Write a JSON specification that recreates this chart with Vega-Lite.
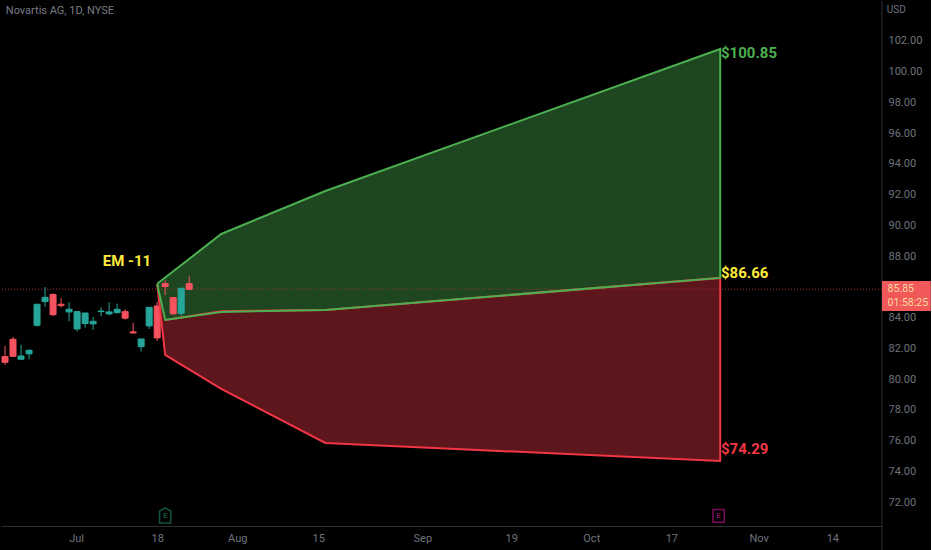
{"$schema":"https://vega.github.io/schema/vega-lite/v6.json","width":881,"height":525,"padding":0,"autosize":{"type":"pad"},"background":"#000000","config":{"view":{"stroke":null},"text":{"font":"Roboto"}},
"datasets":{
"candles":[
{"bar":0,"high":82.16,"low":80.92,"top":81.46,"bottom":81.09,"dir":"down"},
{"bar":1,"high":82.74,"low":81.48,"top":82.59,"bottom":81.48,"dir":"down"},
{"bar":2,"high":82.22,"low":81.29,"top":81.5,"bottom":81.29,"dir":"up"},
{"bar":3,"high":81.94,"low":81.29,"top":81.87,"bottom":81.64,"dir":"up"},
{"bar":4,"high":84.87,"low":83.41,"top":84.87,"bottom":83.5,"dir":"up"},
{"bar":5,"high":85.99,"low":84.71,"top":85.32,"bottom":85.04,"dir":"up"},
{"bar":6,"high":85.58,"low":84.09,"top":85.5,"bottom":84.19,"dir":"down"},
{"bar":7,"high":85.26,"low":84.65,"top":84.87,"bottom":84.78,"dir":"down"},
{"bar":8,"high":85.0,"low":83.76,"top":84.54,"bottom":84.37,"dir":"up"},
{"bar":9,"high":84.39,"low":83.09,"top":84.39,"bottom":83.26,"dir":"up"},
{"bar":10,"high":84.3,"low":83.35,"top":84.3,"bottom":83.61,"dir":"up"},
{"bar":11,"high":84.04,"low":83.2,"top":83.76,"bottom":83.59,"dir":"up"},
{"bar":12,"high":84.65,"low":84.09,"top":84.43,"bottom":84.39,"dir":"up"},
{"bar":13,"high":85.0,"low":84.15,"top":84.37,"bottom":84.24,"dir":"up"},
{"bar":14,"high":84.91,"low":84.28,"top":84.54,"bottom":84.32,"dir":"up"},
{"bar":15,"high":84.54,"low":83.87,"top":84.39,"bottom":83.96,"dir":"down"},
{"bar":16,"high":83.67,"low":82.96,"top":83.07,"bottom":83.0,"dir":"down"},
{"bar":17,"high":82.61,"low":81.79,"top":82.61,"bottom":82.11,"dir":"up"},
{"bar":18,"high":84.67,"low":83.26,"top":84.67,"bottom":83.46,"dir":"up"},
{"bar":19,"high":85.04,"low":82.48,"top":84.76,"bottom":82.68,"dir":"down"},
{"bar":20,"high":86.43,"low":85.47,"top":86.21,"bottom":86.02,"dir":"down"},
{"bar":21,"high":85.34,"low":84.22,"top":85.3,"bottom":84.24,"dir":"down"},
{"bar":22,"high":85.91,"low":84.11,"top":85.91,"bottom":84.28,"dir":"up"},
{"bar":23,"high":86.69,"low":85.84,"top":86.21,"bottom":85.84,"dir":"down"}],
"zones":[
{"zone":"up","bar":19,"a":86.2,"b":86.2},{"zone":"up","bar":20,"a":86.6,"b":83.85},{"zone":"up","bar":27,"a":89.44,"b":84.37},{"zone":"up","bar":40,"a":92.24,"b":84.5},{"zone":"up","bar":89.3,"a":101.48,"b":86.58},
{"zone":"down","bar":19,"a":86.2,"b":86.2},{"zone":"down","bar":20,"a":83.85,"b":81.57},{"zone":"down","bar":27,"a":84.37,"b":79.36},{"zone":"down","bar":40,"a":84.5,"b":75.84},{"zone":"down","bar":89.3,"a":86.58,"b":74.67}],
"outline":[
{"zone":"down","seq":1,"bar":19,"price":86.2},{"zone":"down","seq":2,"bar":20,"price":81.57},{"zone":"down","seq":3,"bar":27,"price":79.36},{"zone":"down","seq":4,"bar":40,"price":75.84},{"zone":"down","seq":5,"bar":89.3,"price":74.67},{"zone":"down","seq":6,"bar":89.3,"price":86.58},{"zone":"down","seq":7,"bar":40,"price":84.5},{"zone":"down","seq":8,"bar":27,"price":84.42},{"zone":"down","seq":9,"bar":20,"price":83.85},
{"zone":"up","seq":1,"bar":19,"price":86.2},{"zone":"up","seq":2,"bar":27,"price":89.44},{"zone":"up","seq":3,"bar":40,"price":92.24},{"zone":"up","seq":4,"bar":89.3,"price":101.48},{"zone":"up","seq":5,"bar":89.3,"price":86.58},{"zone":"up","seq":6,"bar":40,"price":84.5},{"zone":"up","seq":7,"bar":27,"price":84.37},{"zone":"up","seq":8,"bar":20,"price":83.85},{"zone":"up","seq":9,"bar":19,"price":86.2}],
"callouts":[
{"label":"$100.85","kind":"green","bar":89.4,"price":101.2},
{"label":"$86.66","kind":"yellow","bar":89.4,"price":86.9},
{"label":"$74.29","kind":"red","bar":89.4,"price":75.45},
{"label":"EM -11","kind":"yellow","bar":12.2,"price":87.69}]
},
"layer":[
{"data":{"values":[{"bar":109.5,"p1":104.6,"p2":68.82}]},"mark":{"type":"rule","color":"#2a2e39","strokeWidth":1},"encoding":{
"x":{"field":"bar","type":"quantitative","scale":{"domain":[-0.5,109.5],"nice":false,"zero":false,"padding":0},"title":null,"axis":{"values":[8.87,19,29,39.1,52.1,63.2,73.2,83.2,94.1,103.3],"labelExpr":"{'8.87':'Jul','19':'18','29':'Aug','39.1':'15','52.1':'Sep','63.2':'19','73.2':'Oct','83.2':'17','94.1':'Nov','103.3':'14'}[''+datum.value]","grid":false,"ticks":false,"domainColor":"#2a2e39","labelColor":"#6f727d","labelFont":"Roboto","labelFontSize":11,"labelPadding":6,"labelOverlap":false}},
"y":{"field":"p1","type":"quantitative","scale":{"domain":[70.44,104.6],"nice":false,"zero":false,"padding":0},"title":null,"axis":{"orient":"right","values":[72,74,76,78,80,82,84,88,90,92,94,96,98,100,102],"tickCount":40,"format":".2f","grid":false,"ticks":false,"domain":false,"labelColor":"#6f727d","labelFont":"Roboto","labelFontSize":11,"labelPadding":6,"labelOverlap":false}},
"y2":{"field":"p2"}}},
{"data":{"name":"zones"},"mark":{"type":"area","orient":"vertical"},"encoding":{"x":{"field":"bar","type":"quantitative"},"y":{"field":"a","type":"quantitative"},"y2":{"field":"b"},"color":{"field":"zone","type":"nominal","scale":{"domain":["up","down"],"range":["#1e4620","#5d161c"]},"legend":null}}},
{"data":{"values":[{"price":85.85}]},"mark":{"type":"rule","color":"#a5302f","strokeDash":[1,2],"strokeWidth":1},"encoding":{"y":{"field":"price","type":"quantitative"}}},
{"data":{"name":"candles"},"mark":{"type":"rule","strokeWidth":1},"encoding":{"x":{"field":"bar","type":"quantitative"},"y":{"field":"high","type":"quantitative"},"y2":{"field":"low"},"stroke":{"field":"dir","type":"nominal","scale":{"domain":["up","down"],"range":["#26a69a","#f7525f"]},"legend":null}}},
{"data":{"name":"candles"},"mark":{"type":"bar","orient":"vertical","size":6,"strokeWidth":1},"encoding":{"x":{"field":"bar","type":"quantitative"},"y":{"field":"top","type":"quantitative"},"y2":{"field":"bottom"},"fill":{"field":"dir","type":"nominal","scale":{"domain":["up","down"],"range":["#26a69a","#f7525f"]},"legend":null},"stroke":{"field":"dir","type":"nominal","scale":{"domain":["up","down"],"range":["#26a69a","#f7525f"]},"legend":null}}},
{"data":{"name":"outline"},"transform":[{"filter":"datum.zone=='down'"}],"mark":{"type":"line","color":"#f23645","strokeWidth":2},"encoding":{"x":{"field":"bar","type":"quantitative"},"y":{"field":"price","type":"quantitative"},"order":{"field":"seq"}}},
{"data":{"name":"outline"},"transform":[{"filter":"datum.zone=='up'"}],"mark":{"type":"line","color":"#4caf50","strokeWidth":2},"encoding":{"x":{"field":"bar","type":"quantitative"},"y":{"field":"price","type":"quantitative"},"order":{"field":"seq"}}},
{"data":{"name":"callouts"},"mark":{"type":"text","font":"Roboto","fontWeight":"bold","fontSize":15,"align":"left","baseline":"middle"},"encoding":{"x":{"field":"bar","type":"quantitative"},"y":{"field":"price","type":"quantitative"},"text":{"field":"label"},"color":{"field":"kind","type":"nominal","scale":{"domain":["green","yellow","red"],"range":["#4caf50","#ffeb3b","#f23645"]},"legend":null}}},
{"data":{"values":[{"label":"Novartis AG, 1D, NYSE","bar":0.1,"price":103.95}]},"mark":{"type":"text","fontSize":11,"color":"#787b86","align":"left","baseline":"middle"},"encoding":{"x":{"field":"bar","type":"quantitative"},"y":{"field":"price","type":"quantitative"},"text":{"field":"label"}}},
{"data":{"values":[{"label":"USD","bar":110.1,"price":104.0}]},"mark":{"type":"text","fontSize":10,"color":"#6f727d","align":"left","baseline":"middle"},"encoding":{"x":{"field":"bar","type":"quantitative"},"y":{"field":"price","type":"quantitative"},"text":{"field":"label"}}},
{"data":{"values":[{"a":109.5,"b":115.6,"top":86.38,"bottom":84.43}]},"mark":{"type":"rect","color":"#f0585a"},"encoding":{"x":{"field":"a","type":"quantitative"},"x2":{"field":"b"},"y":{"field":"top","type":"quantitative"},"y2":{"field":"bottom"}}},
{"data":{"values":[{"label":"85.85","bar":110.2,"price":85.85},{"label":"01:58:25","bar":110.2,"price":84.95}]},"mark":{"type":"text","fontSize":10.5,"color":"#fbd9a0","align":"left","baseline":"middle"},"encoding":{"x":{"field":"bar","type":"quantitative"},"y":{"field":"price","type":"quantitative"},"text":{"field":"label"}}},
{"data":{"values":[{"bar":20,"price":71.1,"label":"E","kind":"split"},{"bar":89.1,"price":71.1,"label":"E","kind":"earn"}]},"mark":{"type":"point","size":256,"filled":false,"strokeWidth":1.5},"encoding":{"x":{"field":"bar","type":"quantitative"},"y":{"field":"price","type":"quantitative"},"shape":{"field":"kind","type":"nominal","scale":{"domain":["split","earn"],"range":["M-0.7,-0.6 L0,-1 L0.7,-0.6 L0.7,0.9 L-0.7,0.9 Z","M-0.7,-0.8 L0.7,-0.8 L0.7,0.8 L-0.7,0.8 Z"]},"legend":null},"stroke":{"field":"kind","type":"nominal","scale":{"domain":["split","earn"],"range":["#1b7a5f","#b0107f"]},"legend":null}}},
{"data":{"values":[{"bar":20,"price":71.1,"label":"E","kind":"split"},{"bar":89.1,"price":71.1,"label":"E","kind":"earn"}]},"mark":{"type":"text","fontSize":8,"align":"center","baseline":"middle"},"encoding":{"x":{"field":"bar","type":"quantitative"},"y":{"field":"price","type":"quantitative"},"text":{"field":"label"},"fill":{"field":"kind","type":"nominal","scale":{"domain":["split","earn"],"range":["#1b7a5f","#b0107f"]},"legend":null}}}
],
"resolve":{"scale":{"color":"independent","fill":"independent","stroke":"independent","shape":"independent"}}
}
